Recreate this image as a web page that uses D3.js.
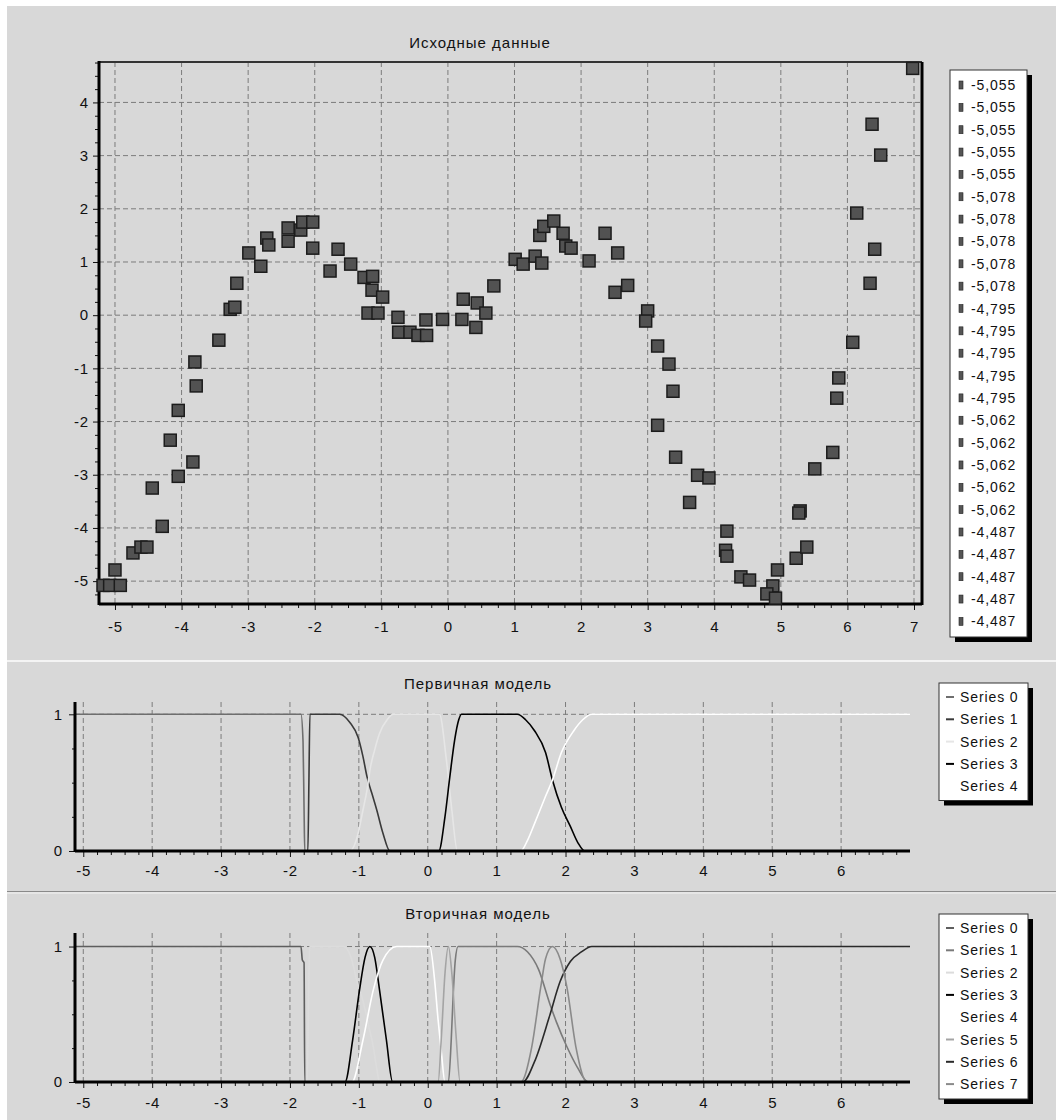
<!DOCTYPE html>
<html>
<head>
<meta charset="utf-8">
<script src="https://cdn.jsdelivr.net/npm/d3@7"></script>
<style>
body { margin: 0; background: #fff; }
text { font-family: "Liberation Sans", Arial, sans-serif; fill: #111; }
</style>
</head>
<body>
<script>
// --- top chart: source points ---
var pointsX = [-5.18,-5.08,-4.92,-5.00,-4.73,-4.61,-4.52,-4.44,-4.29,-4.17,-4.05,-4.05,-3.83,-3.80,-3.78,
  -3.44,-3.27,-3.20,-3.17,-2.99,-2.81,-2.72,-2.69,-2.40,-2.40,-2.21,-2.18,-2.03,-2.03,-1.77,-1.65,-1.46,
  -1.26,-1.13,-1.14,-0.98,-1.20,-1.05,-0.75,-0.74,-0.57,-0.45,-0.32,-0.33,-0.08,0.21,0.23,0.44,0.42,0.57,
  0.69,1.01,1.13,1.31,1.41,1.38,1.44,1.59,1.73,1.77,1.85,2.12,2.36,2.55,2.51,2.70,3.00,2.97,3.15,3.32,
  3.38,3.15,3.42,3.75,3.92,3.63,4.19,4.17,4.19,4.40,4.53,4.95,4.88,4.79,4.92,5.23,5.39,5.29,5.27,5.51,
  5.78,5.84,5.87,6.08,6.14,6.34,6.41,6.37,6.50,6.98];
var pointsY = [-5.08,-5.08,-5.08,-4.79,-4.47,-4.36,-4.36,-3.25,-3.97,-2.35,-3.03,-1.79,-2.76,-0.88,-1.33,
  -0.47,0.11,0.15,0.60,1.17,0.92,1.45,1.32,1.64,1.39,1.60,1.75,1.75,1.26,0.83,1.24,0.96,
  0.71,0.73,0.47,0.34,0.04,0.04,-0.04,-0.32,-0.32,-0.38,-0.38,-0.09,-0.08,-0.08,0.30,0.23,-0.23,0.04,
  0.55,1.05,0.96,1.11,0.98,1.50,1.67,1.77,1.54,1.30,1.26,1.02,1.54,1.17,0.43,0.56,0.08,-0.11,-0.58,-0.92,
  -1.43,-2.07,-2.67,-3.01,-3.06,-3.52,-4.06,-4.42,-4.53,-4.92,-4.98,-4.79,-5.09,-5.24,-5.32,-4.57,-4.36,-3.68,-3.72,-2.89,
  -2.58,-1.56,-1.18,-0.51,1.92,0.60,1.24,3.59,3.01,4.64];
var topLegend = ['-5,055','-5,055','-5,055','-5,055','-5,055','-5,078','-5,078','-5,078','-5,078','-5,078',
  '-4,795','-4,795','-4,795','-4,795','-4,795','-5,062','-5,062','-5,062','-5,062','-5,062',
  '-4,487','-4,487','-4,487','-4,487','-4,487'];
var topXTicks = [-5,-4,-3,-2,-1,0,1,2,3,4,5,6,7];
var topYTicks = [-5,-4,-3,-2,-1,0,1,2,3,4];

// --- middle chart: primary model ---
var primaryNames = ['Series 0','Series 1','Series 2','Series 3','Series 4'];
var primaryColors = ['#6e6e6e','#3a3a3a','#e6e6e6','#000000','#ffffff'];
var primary0 = [[-5.12,1],[-1.84,1],[-1.81,0.8],[-1.795,0.3],[-1.785,0],[7,0]];
var primary1 = [[-5.12,0],[-1.74,0],[-1.725,0.5],[-1.71,1],[-1.28,1],[-1.13,0.94],[-1.01,0.83],[-0.94,0.69],
  [-0.88,0.54],[-0.81,0.42],[-0.74,0.30],[-0.65,0.13],[-0.55,0],[7,0]];
var primary2 = [[-5.12,0],[-1.13,0],[-1.01,0.13],[-0.94,0.30],[-0.88,0.45],[-0.84,0.59],[-0.77,0.74],[-0.70,0.86],
  [-0.59,0.96],[-0.50,1],[0.17,1],[0.27,0.67],[0.35,0.3],[0.43,0],[7,0]];
var primary3 = [[-5.12,0],[0.16,0],[0.25,0.25],[0.32,0.54],[0.39,0.81],[0.45,0.96],[0.49,1],[1.30,1],[1.42,0.96],
  [1.55,0.88],[1.71,0.72],[1.81,0.52],[1.94,0.32],[2.07,0.18],[2.18,0.06],[2.28,0],[7,0]];
var primary4 = [[-5.12,0],[1.35,0],[1.45,0.08],[1.55,0.2],[1.71,0.4],[1.81,0.52],[1.94,0.72],[2.12,0.88],
  [2.25,0.96],[2.38,1],[7,1]];

// --- bottom chart: secondary model ---
var secondaryNames = ['Series 0','Series 1','Series 2','Series 3','Series 4','Series 5','Series 6','Series 7'];
var secondaryColors = ['#5e5e5e','#7a7a7a','#dcdcdc','#000000','#ffffff','#a4a4a4','#2a2a2a','#8a8a8a'];
var secondary0 = [[-5.12,1],[-1.84,1],[-1.82,0.9],[-1.795,0.88],[-1.785,0],[7,0]];
var secondary1 = [[-5.12,0],[0.30,0],[0.34,0.3],[0.37,0.65],[0.40,0.9],[0.44,1],[1.30,1],[1.45,0.96],[1.61,0.83],
  [1.77,0.58],[1.87,0.44],[2.02,0.26],[2.17,0.11],[2.33,0],[7,0]];
var secondary2 = [[-5.12,0],[-1.75,0],[-1.73,0.6],[-1.715,1],[-1.22,1],[-1.12,0.93],[-1.03,0.75],[-0.94,0.6],
  [-0.86,0.42],[-0.79,0.26],[-0.74,0.1],[-0.70,0],[7,0]];
var secondary3 = [[-5.12,0],[-1.20,0],[-1.09,0.31],[-0.99,0.68],[-0.91,0.92],[-0.84,1],[-0.77,0.92],[-0.70,0.68],
  [-0.60,0.31],[-0.51,0],[7,0]];
var secondary4 = [[-5.12,0],[-1.10,0],[-0.94,0.31],[-0.79,0.68],[-0.65,0.9],[-0.45,1],[0.03,1],[0.10,0.75],
  [0.15,0.46],[0.20,0.21],[0.25,0],[7,0]];
var secondary5 = [[-5.12,0],[0.15,0],[0.20,0.35],[0.25,0.8],[0.30,1],[0.35,0.8],[0.41,0.35],[0.47,0],[7,0]];
var secondary6 = [[-5.12,0],[1.38,0],[1.55,0.15],[1.77,0.49],[1.92,0.74],[2.07,0.89],[2.23,0.96],[2.38,1],[7,1]];
var secondary7 = [[-5.12,0],[1.35,0],[1.51,0.26],[1.64,0.7],[1.71,0.91],[1.81,1],[1.92,0.91],[2.02,0.7],
  [2.15,0.26],[2.31,0],[7,0]];

var modelXTicks = [-5,-4,-3,-2,-1,0,1,2,3,4,5,6];
var modelYTicks = [0,1];

var svg = d3.select('body').append('svg')
    .attr('width', 1056)
    .attr('height', 1120);

svg.append('rect')
    .attr('x', 7).attr('y', 6)
    .attr('width', 1049).attr('height', 1114)
    .attr('fill', '#d8d8d8');

// panel separators
svg.append('line').attr('x1',7).attr('x2',1056).attr('y1',661).attr('y2',661)
    .attr('stroke','#f4f4f4').attr('stroke-width',2);
svg.append('line').attr('x1',7).attr('x2',1056).attr('y1',891.5).attr('y2',891.5)
    .attr('stroke','#8a8a8a').attr('stroke-width',1);
svg.append('line').attr('x1',7).attr('x2',1056).attr('y1',893).attr('y2',893)
    .attr('stroke','#f4f4f4').attr('stroke-width',1);

function dashLine(g, xa, xb, ya, yb) {
    g.append('line')
        .attr('x1', xa).attr('x2', xb).attr('y1', ya).attr('y2', yb)
        .attr('stroke', '#7c7c7c')
        .attr('stroke-width', 1)
        .attr('stroke-dasharray', '5,3');
}

function styleAxis(g) {
    g.select('.domain').remove();
    g.selectAll('line').attr('stroke', '#111');
    g.selectAll('text')
        .style('font-size', '15px')
        .style('letter-spacing', '0.8px')
        .attr('fill', '#111');
}

function minorTicks(lo, hi, step) {
    var out = [];
    var start = Math.ceil(lo / step) * step;
    for (var v = start; v <= hi + 1e-9; v += step) {
        var r = +v.toFixed(4);
        if (Math.abs(r - Math.round(r)) > 1e-6) out.push(r);
    }
    return out;
}

// ================= top chart =================
var x1 = d3.scaleLinear().domain([-5.24, 7.12]).range([99, 922]);
var y1 = d3.scaleLinear().domain([-5.43, 4.76]).range([604, 62]);
var topG = svg.append('g');

topXTicks.forEach(function(d){ dashLine(topG, x1(d), x1(d), 62, 604); });
topYTicks.forEach(function(d){ dashLine(topG, 99, 922, y1(d), y1(d)); });

topG.append('g').attr('transform','translate(0,604)')
    .call(d3.axisBottom(x1).tickValues(minorTicks(-5.24, 7.12, 0.25)).tickSize(4).tickFormat(''))
    .call(styleAxis);
topG.append('g').attr('transform','translate(0,604)')
    .call(d3.axisBottom(x1).tickValues(topXTicks).tickSize(6).tickPadding(11).tickFormat(function(d){ return String(d); }))
    .call(styleAxis);
topG.append('g').attr('transform','translate(99,0)')
    .call(d3.axisLeft(y1).tickValues(minorTicks(-5.43, 4.76, 0.25)).tickSize(4).tickFormat(''))
    .call(styleAxis);
topG.append('g').attr('transform','translate(99,0)')
    .call(d3.axisLeft(y1).tickValues(topYTicks).tickSize(6).tickPadding(4).tickFormat(function(d){ return String(d); }))
    .call(styleAxis);

// frame
topG.append('line').attr('x1',99).attr('x2',922).attr('y1',62).attr('y2',62).attr('stroke','#333').attr('stroke-width',2);
topG.append('line').attr('x1',922).attr('x2',922).attr('y1',62).attr('y2',605).attr('stroke','#000').attr('stroke-width',3);
topG.append('line').attr('x1',99).attr('x2',922).attr('y1',604).attr('y2',604).attr('stroke','#000').attr('stroke-width',3);
topG.append('line').attr('x1',99).attr('x2',99).attr('y1',61).attr('y2',605).attr('stroke','#000').attr('stroke-width',3);

topG.selectAll('rect.pt')
    .data(pointsX.map(function(d, i){ return [d, pointsY[i]]; }))
    .enter().append('rect')
    .attr('class','pt')
    .attr('x', function(d){ return x1(d[0]) - 6; })
    .attr('y', function(d){ return y1(d[1]) - 6; })
    .attr('width', 12)
    .attr('height', 12)
    .attr('fill', '#525252')
    .attr('stroke', '#1c1c1c')
    .attr('stroke-width', 1.5);

topG.append('text').attr('x',480).attr('y',48).attr('text-anchor','middle')
    .style('font-size','15px').style('letter-spacing','1px')
    .text('Исходные данные');

// legend
topG.append('rect').attr('x',955).attr('y',75).attr('width',77).attr('height',567).attr('fill','#000');
topG.append('rect').attr('x',950).attr('y',70).attr('width',77).attr('height',567)
    .attr('fill','#fff').attr('stroke','#333').attr('stroke-width',1);
var topLeg = topG.selectAll('g.leg').data(topLegend).enter().append('g')
    .attr('class','leg')
    .attr('transform', function(d, i){ return 'translate(0,' + (85 + i * 22.35) + ')'; });
topLeg.append('rect').attr('x',959).attr('y',-4).attr('width',4).attr('height',8)
    .attr('fill','#555').attr('stroke','#222').attr('stroke-width',0.6);
topLeg.append('text').attr('x',971).attr('y',5)
    .style('font-size','14px').style('letter-spacing','0.9px')
    .text(function(d){ return d; });

// ================= model charts =================
function drawModel(cfg) {
    var g = svg.append('g');
    var x = d3.scaleLinear().domain([-5.12, 7.0]).range([75, 910]);
    var y = d3.scaleLinear().domain(cfg.yDomain).range([cfg.bottom, cfg.plotTop]);

    modelXTicks.forEach(function(d){ dashLine(g, x(d), x(d), cfg.plotTop, cfg.bottom); });
    dashLine(g, 75, 910, y(1), y(1));

    var line = d3.line()
        .x(function(d){ return x(d[0]); })
        .y(function(d){ return y(d[1]); })
        .curve(d3.curveMonotoneX);

    cfg.series.forEach(function(s, i){
        g.append('path')
            .attr('d', line(s))
            .attr('fill', 'none')
            .attr('stroke', cfg.colors[i])
            .attr('stroke-width', 1.6);
    });

    g.append('g').attr('transform','translate(0,' + cfg.bottom + ')')
        .call(d3.axisBottom(x).tickValues(minorTicks(-5.12, 7.0, 0.2)).tickSize(4).tickFormat(''))
        .call(styleAxis);
    g.append('g').attr('transform','translate(0,' + cfg.bottom + ')')
        .call(d3.axisBottom(x).tickValues(modelXTicks).tickSize(6).tickPadding(cfg.xPad).tickFormat(function(d){ return String(d); }))
        .call(styleAxis);
    g.append('g').attr('transform','translate(75,0)')
        .call(d3.axisLeft(y).tickValues([0.25,0.5,0.75]).tickSize(3).tickFormat(''))
        .call(styleAxis);
    g.append('g').attr('transform','translate(75,0)')
        .call(d3.axisLeft(y).tickValues(modelYTicks).tickSize(6).tickPadding(6).tickFormat(function(d){ return String(d); }))
        .call(styleAxis);

    g.append('line').attr('x1',75).attr('x2',910).attr('y1',cfg.bottom).attr('y2',cfg.bottom)
        .attr('stroke','#000').attr('stroke-width',3);
    g.append('line').attr('x1',75).attr('x2',75).attr('y1',cfg.plotTop).attr('y2',cfg.bottom + 1)
        .attr('stroke','#000').attr('stroke-width',3);

    g.append('text').attr('x',478).attr('y',cfg.titleY).attr('text-anchor','middle')
        .style('font-size','15px').style('letter-spacing','1px')
        .text(cfg.title);

    // legend
    var lh = cfg.names.length * 22.5 + 5;
    g.append('rect').attr('x',944).attr('y',cfg.legY + 5).attr('width',89).attr('height',lh).attr('fill','#000');
    g.append('rect').attr('x',939).attr('y',cfg.legY).attr('width',89).attr('height',lh)
        .attr('fill','#fff').attr('stroke','#333').attr('stroke-width',1);
    var leg = g.selectAll('g.leg').data(cfg.names).enter().append('g')
        .attr('class','leg')
        .attr('transform', function(d, i){ return 'translate(0,' + (cfg.legY + 14 + i * 22.3) + ')'; });
    leg.append('line').attr('x1',946).attr('x2',954).attr('y1',0).attr('y2',0)
        .attr('stroke', function(d, i){ return cfg.colors[i]; }).attr('stroke-width',2);
    leg.append('text').attr('x',960).attr('y',5)
        .style('font-size','14px').style('letter-spacing','0.9px')
        .text(function(d){ return d; });
}

drawModel({
    title: 'Первичная модель', titleY: 689,
    plotTop: 702, bottom: 851, yDomain: [0, 1.09], xPad: 8,
    series: [primary0, primary1, primary2, primary3, primary4],
    colors: primaryColors, names: primaryNames, legY: 683
});

drawModel({
    title: 'Вторичная модель', titleY: 919,
    plotTop: 933, bottom: 1082, yDomain: [0, 1.10], xPad: 9,
    series: [secondary0, secondary1, secondary2, secondary3, secondary4, secondary5, secondary6, secondary7],
    colors: secondaryColors, names: secondaryNames, legY: 914
});
</script>
</body>
</html>
